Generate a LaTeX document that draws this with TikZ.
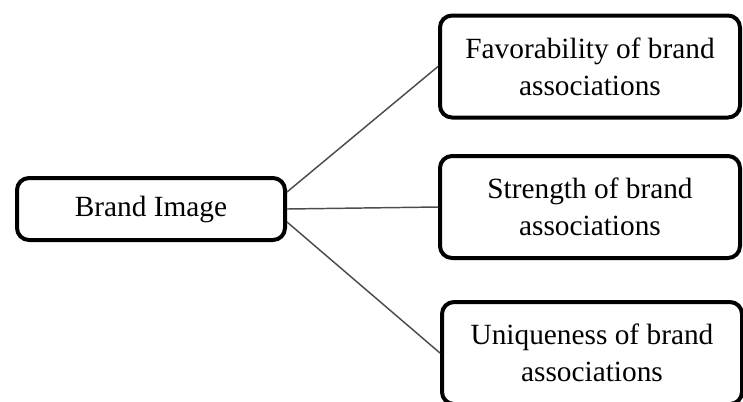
\documentclass[tikz,border=0pt]{standalone}
\usepackage{fontspec}
\setmainfont{Liberation Serif}
\usetikzlibrary{positioning}

\begin{document}
\begin{tikzpicture}[x=0.75pt,y=-0.75pt,
  box/.style={draw=black,line width=3pt,rounded corners=9pt,align=center,
    font=\fontsize{22}{28}\selectfont,inner sep=0pt},
  imgbox/.style={box,minimum width=201pt,minimum height=46.5pt},
  assocbox/.style={box,minimum width=225pt,minimum height=76.5pt},
  link/.style={draw=black!70,line width=1.1pt}]
\useasboundingbox (0,0) rectangle (743,401);

\node[imgbox] (img) at (151,209) {Brand Image};
\node[assocbox] (fav) at (590,66.5) {Favorability of brand\\associations};
\node[assocbox] (str) at (590,207) {Strength of brand\\associations};
\node[assocbox] (uni) at (592,353) {Uniqueness of brand\\associations};

\coordinate (img-up) at ([yshift=12.75pt]img.east);
\coordinate (img-down) at ([yshift=-9.75pt]img.east);

\draw[link] (img-up) -- (fav.west);
\draw[link] (img.east) -- (str.west);
\draw[link] (img-down) -- (uni.west);

\end{tikzpicture}
\end{document}
